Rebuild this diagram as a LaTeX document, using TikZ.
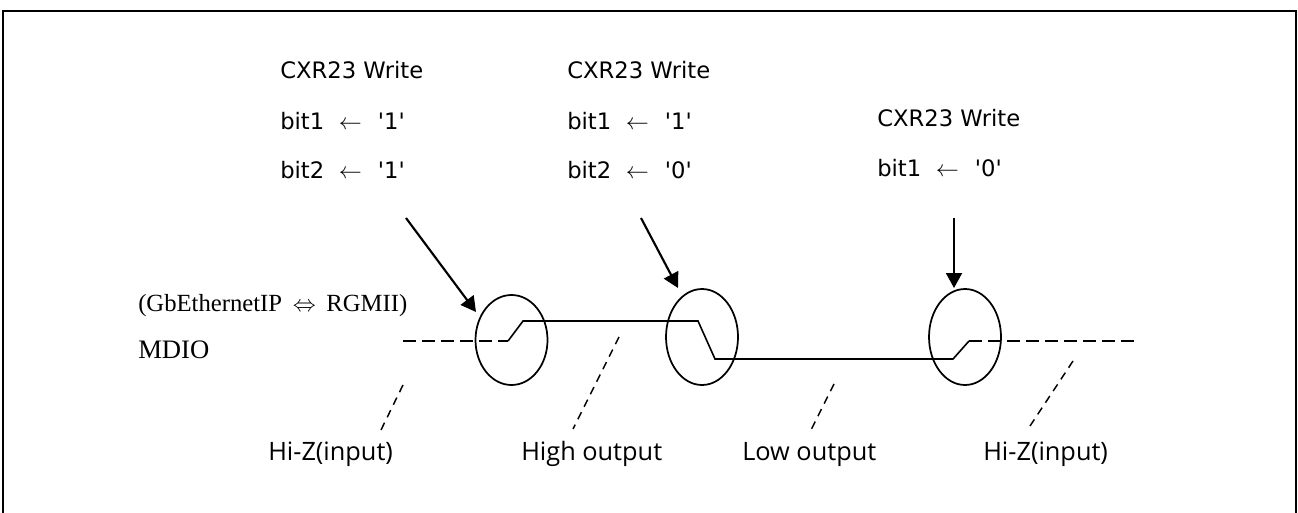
\documentclass[tikz,border=0pt]{standalone}
\usepackage{fontspec}
\setmainfont{Liberation Serif}
\newfontfamily\topfont{DejaVu Sans}
\newfontfamily\botfont{Open Sans}
\usetikzlibrary{arrows.meta,shapes.geometric}
\newcommand{\larr}{\hspace{11pt}$\leftarrow$\hspace{12pt}}
\tikzset{
  txt/.style={inner sep=0pt, anchor=base west},
  toptxt/.style={txt, font=\topfont\fontsize{17pt}{20pt}\selectfont},
  bottxt/.style={txt, font=\botfont\fontsize{19pt}{22pt}\selectfont},
  sertxt/.style={txt, font=\fontsize{18.5pt}{24pt}\selectfont},
  ring/.style={draw, ellipse, line width=1.3pt, inner sep=0pt, minimum width=54pt},
  sig/.style={line width=1.2pt},
  sigdash/.style={line width=1.2pt, dash pattern=on 9.75pt off 4.5pt},
  leader/.style={line width=1.1pt, dash pattern=on 6pt off 4.5pt},
  pointer/.style={line width=1.6pt, -{Triangle[length=11.25pt,width=12pt]}},
}
\begin{document}
\begin{tikzpicture}[x=0.75pt,y=-0.75pt]
\useasboundingbox (0,0) rectangle (1298,513);
% frame (bottom edge lies outside the picture)
\draw[line width=1.5pt] (3,540) -- (3,11) -- (1296,11) -- (1296,540);

% top texts
\node[toptxt] (c1a) at (280,79) {CXR23 Write};
\node[toptxt] (c1b) at (280,130) {bit1\larr'1'};
\node[toptxt] (c1c) at (280,179) {bit2\larr'1'};
\node[toptxt] (c2a) at (567,79) {CXR23 Write};
\node[toptxt] (c2b) at (567,130) {bit1\larr'1'};
\node[toptxt] (c2c) at (567,179) {bit2\larr'0'};
\node[toptxt] (c3a) at (877,127) {CXR23 Write};
\node[toptxt] (c3b) at (877,177) {bit1\larr'0'};

% left texts
\node[sertxt] (bus) at (138,311) {(GbEthernetIP\hspace{8pt}{\fontsize{16pt}{16pt}\selectfont$\Leftrightarrow$}\hspace{8pt}RGMII)};
\node[sertxt, font=\fontsize{20pt}{24pt}\selectfont] (mdio) at (138,358) {MDIO};

% ellipses
\node[ring, minimum height=67.5pt] (e1) at (511.5,340) {};
\node[ring, minimum height=72pt] (e2) at (702,337) {};
\node[ring, minimum height=72pt] (e3) at (965,337) {};

% signal
\draw[sigdash] (403,341) -- (508,341);
\draw[sig] (508,341) -- (523,321) -- (698,321) -- (715,359) -- (953,359) -- (969,341);
\draw[sigdash] (969,341) -- (1140,341);

% arrows
\coordinate (a1s) at (406,218);
\coordinate (a1e) at (476,312);
\coordinate (a2s) at (641,218);
\coordinate (a2e) at (678,288);
\coordinate (a3s) at (954,218);
\coordinate (a3e) at (954,288);
\draw[pointer] (a1s) -- (a1e);
\draw[pointer] (a2s) -- (a2e);
\draw[pointer] (a3s) -- (a3e);

% bottom labels
\node[bottxt] (l1) at (268,460) {Hi-Z(input)};
\node[bottxt] (l2) at (521,460) {High output};
\node[bottxt] (l3) at (742,460) {Low output};
\node[bottxt] (l4) at (983,460) {Hi-Z(input)};

% leaders
\coordinate (d1s) at (403,385); \coordinate (d1e) at (380,432);
\coordinate (d2s) at (619,337); \coordinate (d2e) at (573,429);
\coordinate (d3s) at (834,384); \coordinate (d3e) at (810,432);
\coordinate (d4s) at (1073,361); \coordinate (d4e) at (1028,429);
\draw[leader] (d1s) -- (d1e);
\draw[leader] (d2s) -- (d2e);
\draw[leader] (d3s) -- (d3e);
\draw[leader] (d4s) -- (d4e);
\end{tikzpicture}
\end{document}
